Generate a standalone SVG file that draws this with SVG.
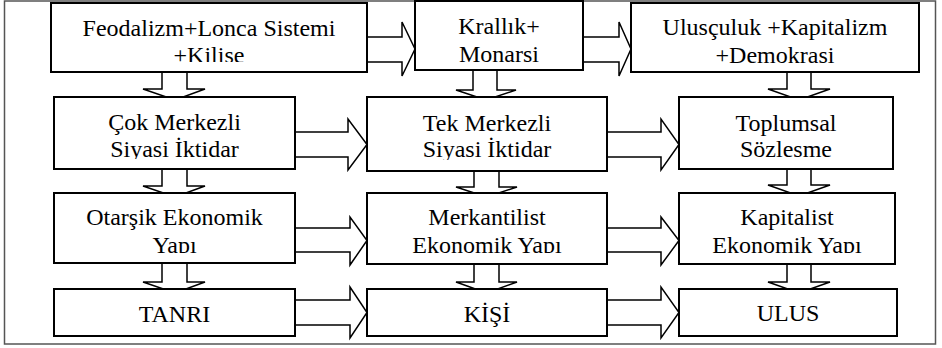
<svg xmlns="http://www.w3.org/2000/svg" width="942" height="348" viewBox="0 0 942 348">
<style>
.frame{fill:none;stroke:#555;stroke-width:1.5}
.box{fill:#fff;stroke:#000;stroke-width:2}
.arr{fill:#fff;stroke:#000;stroke-width:1.5;stroke-linejoin:miter}
.t{font-family:'Liberation Serif','Times New Roman','DejaVu Serif',serif;font-size:24px;fill:#000;text-anchor:middle}
</style>
<defs>
<clipPath id="c1"><rect x="51" y="3" width="316" height="59"/></clipPath>
<clipPath id="c2"><rect x="415" y="1" width="168" height="61"/></clipPath>
<clipPath id="c3"><rect x="631" y="3" width="288" height="60"/></clipPath>
<clipPath id="c4"><rect x="54" y="97" width="241" height="62"/></clipPath>
<clipPath id="c5"><rect x="367" y="97" width="240" height="63"/></clipPath>
<clipPath id="c6"><rect x="679" y="97" width="214" height="62"/></clipPath>
<clipPath id="c7"><rect x="54" y="193" width="241" height="60"/></clipPath>
<clipPath id="c8"><rect x="367" y="193" width="240" height="60"/></clipPath>
<clipPath id="c9"><rect x="679" y="193" width="216" height="60"/></clipPath>
</defs>
<rect class="frame" x="4.5" y="1" width="931" height="343"/>
<g id="connectors">
<polygon class="arr" points="367,37 402,37 402,22 415,49 402,76 402,62 367,62"/>
<polygon class="arr" points="583,37 619,37 619,22 631,49 619,76 619,62 583,62"/>
<polygon class="arr" points="295,132 348,132 348,119 367,144.5 348,170 348,157 295,157"/>
<polygon class="arr" points="607,132 661,132 661,119 679,144.5 661,170 661,157 607,157"/>
<polygon class="arr" points="295,228 350,228 350,217 367,240.5 350,265 350,252 295,252"/>
<polygon class="arr" points="607,228 661,228 661,217 679,240.5 661,265 661,252 607,252"/>
<polygon class="arr" points="295,300 350,300 350,287 367,312.5 350,338 350,325 295,325"/>
<polygon class="arr" points="607,300 661,300 661,287 679,312.5 661,338 661,325 607,325"/>
<polygon class="arr" points="162,72 162,89 143,89 175,100 205,89 187,89 187,72"/>
<polygon class="arr" points="162,169 162,186 143,186 175,197 205,186 187,186 187,169"/>
<polygon class="arr" points="162,263 162,282 143,282 175,293 205,282 187,282 187,263"/>
<polygon class="arr" points="473,70 473,90 456,90 486,100 516,90 497,90 497,70"/>
<polygon class="arr" points="474,171 474,187 456,187 486.5,197 517,187 499,187 499,171"/>
<polygon class="arr" points="474,264 474,282 456,282 486.5,293 517,282 499,282 499,264"/>
<polygon class="arr" points="787,72 787,89 768,89 799,100 830,89 811,89 811,72"/>
<polygon class="arr" points="787,169 787,185 768,185 799,196 830,185 811,185 811,169"/>
<polygon class="arr" points="787,264 787,282 768,282 799,293 830,282 811,282 811,264"/>
</g>
<g id="n1"><rect class="box" x="51" y="3" width="316" height="69"/><text class="t" font-family="Liberation Serif" clip-path="url(#c1)"><tspan x="209" y="36">Feodalizm+Lonca Sistemi</tspan><tspan x="209" y="63">+Kilise</tspan></text></g>
<g id="n2"><rect class="box" x="415" y="1" width="168" height="69"/><text class="t" clip-path="url(#c2)"><tspan x="499" y="34">Krallık+</tspan><tspan x="499" y="62">Monarsi</tspan></text></g>
<g id="n3"><rect class="box" x="631" y="3" width="288" height="69"/><text class="t" clip-path="url(#c3)"><tspan x="775" y="35">Ulusçuluk +Kapitalizm</tspan><tspan x="775" y="63">+Demokrasi</tspan></text></g>
<g id="n4"><rect class="box" x="54" y="97" width="241" height="72"/><text class="t" clip-path="url(#c4)"><tspan x="174.5" y="130">Çok Merkezli</tspan><tspan x="174.5" y="157">Siyasi İktidar</tspan></text></g>
<g id="n5"><rect class="box" x="367" y="97" width="240" height="74"/><text class="t" clip-path="url(#c5)"><tspan x="487" y="131">Tek Merkezli</tspan><tspan x="487" y="157">Siyasi İktidar</tspan></text></g>
<g id="n6"><rect class="box" x="679" y="97" width="214" height="72"/><text class="t" clip-path="url(#c6)"><tspan x="786" y="131">Toplumsal</tspan><tspan x="786" y="157">Sözlesme</tspan></text></g>
<g id="n7"><rect class="box" x="54" y="193" width="241" height="70"/><text class="t" clip-path="url(#c7)"><tspan x="174.5" y="225">Otarşik Ekonomik</tspan><tspan x="174.5" y="253">Yapı</tspan></text></g>
<g id="n8"><rect class="box" x="367" y="193" width="240" height="71"/><text class="t" clip-path="url(#c8)"><tspan x="487" y="225">Merkantilist</tspan><tspan x="487" y="253">Ekonomik Yapı</tspan></text></g>
<g id="n9"><rect class="box" x="679" y="193" width="216" height="71"/><text class="t" clip-path="url(#c9)"><tspan x="787" y="225">Kapitalist</tspan><tspan x="787" y="253">Ekonomik Yapı</tspan></text></g>
<g id="n10"><rect class="box" x="54" y="289" width="241" height="47"/><text class="t" x="174.5" y="322">TANRI</text></g>
<g id="n11"><rect class="box" x="367" y="289" width="240" height="47"/><text class="t" x="487" y="322">KİŞİ</text></g>
<g id="n12"><rect class="box" x="679" y="289" width="218" height="47"/><text class="t" x="788" y="321">ULUS</text></g>
</svg>
